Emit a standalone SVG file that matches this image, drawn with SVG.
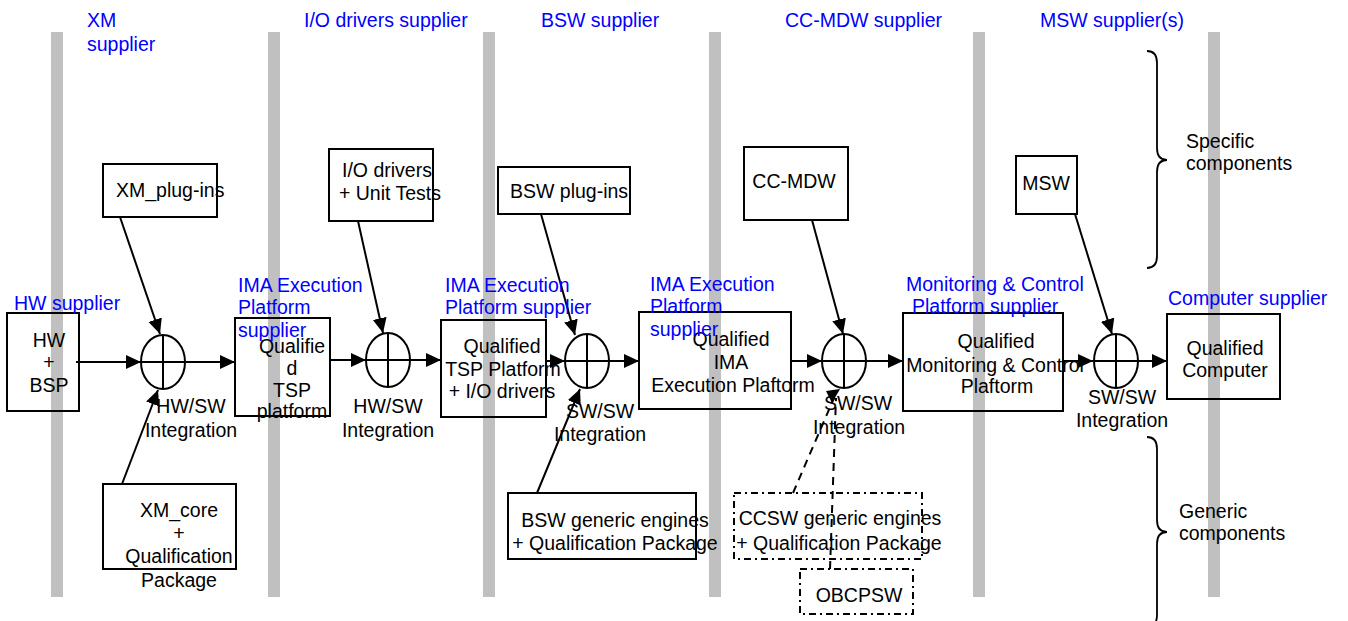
<svg xmlns="http://www.w3.org/2000/svg" width="1348" height="621" viewBox="0 0 1348 621">
  <defs>
    <style>
      text { font-family: "Liberation Sans", Arial, sans-serif; font-size: 19.5px; fill: #000; }
      text.sup { fill: #0000ff; }
      text.c { text-anchor: middle; }
      .lane { fill: #c0c0c0; }
      .box { fill: none; stroke: #000; stroke-width: 2; }
      .dbox { fill: none; stroke: #000; stroke-width: 2; stroke-dasharray: 7 4 2 4; }
      .sum ellipse { fill: #fff; stroke: #000; stroke-width: 2; }
      .sum line { stroke: #000; stroke-width: 2; }
      .flow { stroke: #000; stroke-width: 2; fill: none; marker-end: url(#arrow); }
      .dash { stroke: #000; stroke-width: 2; fill: none; stroke-dasharray: 8 6; }
      .brace { stroke: #000; stroke-width: 1.8; fill: none; }
    </style>
    <marker id="arrow" markerUnits="userSpaceOnUse" markerWidth="16" markerHeight="15" refX="15" refY="7" orient="auto">
      <path d="M0,0 L15,7 L0,14 z" fill="#000"/>
    </marker>
  </defs>

  <rect width="1348" height="621" fill="#fff"/>

  <!-- supplier swim-lane separators -->
  <g id="lanes">
    <rect class="lane" x="51" y="32" width="12" height="565"/>
    <rect class="lane" x="268" y="32" width="12" height="565"/>
    <rect class="lane" x="483" y="32" width="12" height="565"/>
    <rect class="lane" x="709" y="32" width="12" height="565"/>
    <rect class="lane" x="973" y="32" width="12" height="565"/>
    <rect class="lane" x="1208" y="32" width="12" height="565"/>
  </g>

  <!-- supplier labels -->
  <g id="suppliers">
    <text class="sup" x="87" y="27">XM</text>
    <text class="sup" x="87" y="51">supplier</text>
    <text class="sup" x="304" y="27">I/O drivers supplier</text>
    <text class="sup" x="541" y="27">BSW supplier</text>
    <text class="sup" x="785" y="27">CC-MDW supplier</text>
    <text class="sup" x="1040" y="27">MSW supplier(s)</text>
  </g>

  <!-- connectors -->
  <g id="connectors">
    <line class="flow" x1="76" y1="362" x2="141" y2="362"/>
    <line class="flow" x1="120" y1="217" x2="160" y2="334"/>
    <line class="flow" x1="122" y1="484" x2="158" y2="390"/>
    <line class="flow" x1="186" y1="362" x2="235" y2="362"/>
    <line class="flow" x1="330" y1="360" x2="366" y2="360"/>
    <line class="flow" x1="358" y1="221" x2="383" y2="333"/>
    <line class="flow" x1="410" y1="360" x2="441" y2="360"/>
    <line class="flow" x1="546" y1="361" x2="565" y2="361"/>
    <line class="flow" x1="541" y1="214" x2="575" y2="335"/>
    <line class="flow" x1="537" y1="493" x2="580" y2="389"/>
    <line class="flow" x1="608" y1="361" x2="639" y2="361"/>
    <line class="flow" x1="791" y1="361" x2="822" y2="361"/>
    <line class="flow" x1="812" y1="220" x2="843" y2="334"/>
    <line class="dash" x1="793" y1="493" x2="834" y2="398"/>
    <line class="dash" x1="830" y1="569" x2="836" y2="398"/>
    <path d="M826,391 L840,389 L832,403 z" fill="#000"/>
    <line class="flow" x1="867" y1="361" x2="903" y2="361"/>
    <line class="flow" x1="1063" y1="361" x2="1093" y2="361"/>
    <line class="flow" x1="1075" y1="214" x2="1112" y2="334"/>
    <line class="flow" x1="1138" y1="361" x2="1167" y2="361"/>
  </g>

  <!-- integration steps -->
  <g id="int1" class="sum">
    <ellipse cx="163" cy="362" rx="22" ry="27"/>
    <line x1="141" y1="362" x2="185" y2="362"/>
    <line x1="163" y1="335" x2="163" y2="389"/>
    <text class="c" x="191" y="413">HW/SW</text>
    <text class="c" x="191" y="437">Integration</text>
  </g>
  <g id="int2" class="sum">
    <ellipse cx="388" cy="360" rx="22" ry="27"/>
    <line x1="366" y1="360" x2="410" y2="360"/>
    <line x1="388" y1="333" x2="388" y2="387"/>
    <text class="c" x="388" y="413">HW/SW</text>
    <text class="c" x="388" y="437">Integration</text>
  </g>
  <g id="int3" class="sum">
    <ellipse cx="587" cy="361" rx="22" ry="27"/>
    <line x1="565" y1="361" x2="609" y2="361"/>
    <line x1="587" y1="334" x2="587" y2="388"/>
    <text class="c" x="600" y="418">SW/SW</text>
    <text class="c" x="600" y="441">Integration</text>
  </g>
  <g id="int4" class="sum">
    <ellipse cx="844" cy="361" rx="22" ry="27"/>
    <line x1="822" y1="361" x2="866" y2="361"/>
    <line x1="844" y1="334" x2="844" y2="388"/>
    <text class="c" x="858" y="410">SW/SW</text>
    <text class="c" x="859" y="434">Integration</text>
  </g>
  <g id="int5" class="sum">
    <ellipse cx="1116" cy="361" rx="22" ry="27"/>
    <line x1="1094" y1="361" x2="1138" y2="361"/>
    <line x1="1116" y1="334" x2="1116" y2="388"/>
    <text class="c" x="1122" y="404">SW/SW</text>
    <text class="c" x="1122" y="427">Integration</text>
  </g>

  <!-- deliverables -->
  <g id="hw">
    <rect class="box" x="7" y="313" width="72" height="98"/>
    <text class="c" x="49" y="347">HW</text>
    <text class="c" x="49" y="369">+</text>
    <text class="c" x="49" y="392">BSP</text>
    <text class="sup" x="14" y="310">HW supplier</text>
  </g>
  <g id="xm-plugins">
    <rect class="box" x="103" y="164" width="114" height="53"/>
    <text x="116" y="197">XM_plug-ins</text>
  </g>
  <g id="xm-core">
    <rect class="box" x="103" y="484" width="133" height="85"/>
    <text class="c" x="179" y="517">XM_core</text>
    <text class="c" x="179" y="540">+</text>
    <text class="c" x="179" y="563">Qualification</text>
    <text class="c" x="179" y="587">Package</text>
  </g>
  <g id="tsp">
    <rect class="box" x="235" y="318" width="95" height="98"/>
    <text class="c" x="292" y="353">Qualifie</text>
    <text class="c" x="292" y="375">d</text>
    <text class="c" x="292" y="397">TSP</text>
    <text class="c" x="292" y="418">platform</text>
    <text class="sup" x="238" y="292">IMA Execution</text>
    <text class="sup" x="238" y="314">Platform</text>
    <text class="sup" x="238" y="337">supplier</text>
  </g>
  <g id="io-drivers">
    <rect class="box" x="329" y="149" width="104" height="72"/>
    <text class="c" x="387" y="177">I/O drivers</text>
    <text class="c" x="390" y="200">+ Unit Tests</text>
  </g>
  <g id="tsp-io">
    <rect class="box" x="441" y="320" width="105" height="97"/>
    <text class="c" x="502" y="353">Qualified</text>
    <text class="c" x="503" y="376">TSP Platform</text>
    <text class="c" x="502" y="398">+ I/O drivers</text>
    <text class="sup" x="445" y="292">IMA Execution</text>
    <text class="sup" x="445" y="314">Platform supplier</text>
  </g>
  <g id="bsw-plugins">
    <rect class="box" x="498" y="167" width="132" height="47"/>
    <text x="510" y="198">BSW plug-ins</text>
  </g>
  <g id="bsw-generic">
    <rect class="box" x="508" y="493" width="188" height="66"/>
    <text class="c" x="615" y="527">BSW generic engines</text>
    <text class="c" x="615" y="550">+ Qualification Package</text>
  </g>
  <g id="ima">
    <rect class="box" x="639" y="312" width="152" height="97"/>
    <text class="c" x="731" y="346">Qualified</text>
    <text class="c" x="731" y="369">IMA</text>
    <text class="c" x="733" y="392">Execution Plaftorm</text>
    <text class="sup" x="650" y="291">IMA Execution</text>
    <text class="sup" x="650" y="313">Platform</text>
    <text class="sup" x="650" y="336">supplier</text>
  </g>
  <g id="cc-mdw">
    <rect class="box" x="744" y="147" width="104" height="73"/>
    <text class="c" x="794" y="188">CC-MDW</text>
  </g>
  <g id="ccsw-generic">
    <rect class="dbox" x="734" y="493" width="188" height="66"/>
    <text class="c" x="840" y="525">CCSW generic engines</text>
    <text class="c" x="839" y="550">+ Qualification Package</text>
  </g>
  <g id="obcpsw">
    <rect class="dbox" x="800" y="569" width="113" height="45"/>
    <text class="c" x="859" y="602">OBCPSW</text>
  </g>
  <g id="mc-platform">
    <rect class="box" x="903" y="313" width="160" height="98"/>
    <text class="c" x="996" y="348">Qualified</text>
    <text class="c" x="995" y="372">Monitoring &amp; Control</text>
    <text class="c" x="997" y="393">Plaftorm</text>
    <text class="sup" x="906" y="291">Monitoring &amp; Control</text>
    <text class="sup" x="912" y="313">Platform supplier</text>
  </g>
  <g id="msw">
    <rect class="box" x="1016" y="156" width="61" height="58"/>
    <text class="c" x="1046" y="190">MSW</text>
  </g>
  <g id="computer">
    <rect class="box" x="1167" y="314" width="113" height="85"/>
    <text class="c" x="1225" y="355">Qualified</text>
    <text class="c" x="1225" y="377">Computer</text>
    <text class="sup" x="1168" y="305">Computer supplier</text>
  </g>

  <!-- component scope braces -->
  <g id="specific">
    <path class="brace" d="M1147,51 Q1157,51 1157,63 L1157,148 Q1157,160 1167,160 Q1157,160 1157,172 L1157,256 Q1157,268 1147,268"/>
    <text x="1186" y="148">Specific</text>
    <text x="1186" y="170">components</text>
  </g>
  <g id="generic">
    <path class="brace" d="M1147,437 Q1157,437 1157,449 L1157,520 Q1157,532 1167,532 Q1157,532 1157,544 L1157,615 Q1157,627 1147,627"/>
    <text x="1179" y="518">Generic</text>
    <text x="1179" y="540">components</text>
  </g>
</svg>
